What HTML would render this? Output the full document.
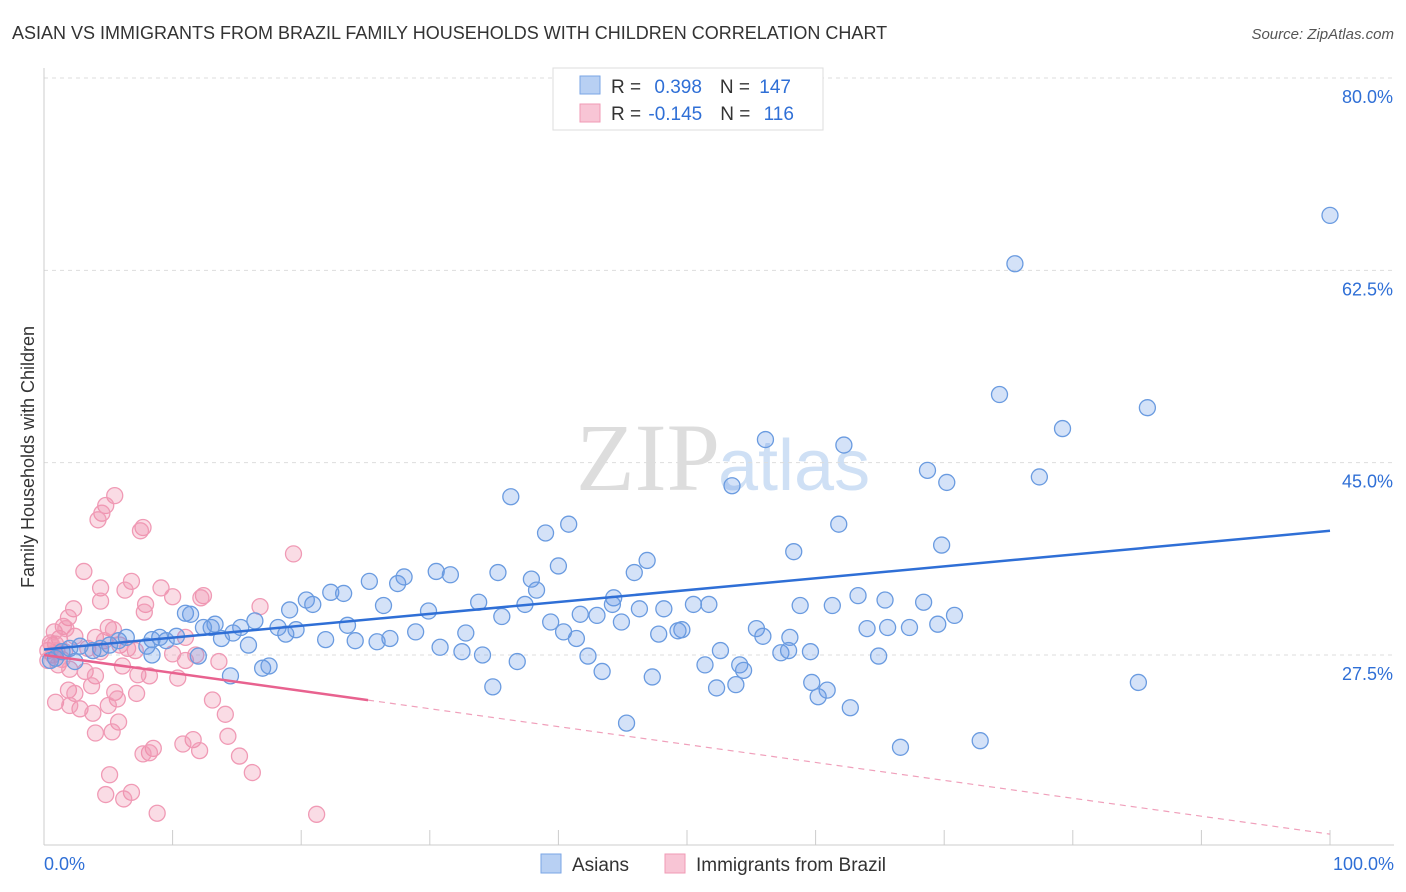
<!DOCTYPE html>
<html><head><meta charset="utf-8"><style>
body{margin:0;background:#fff;font-family:"Liberation Sans",sans-serif}
svg{display:block}
</style></head><body>
<svg id="chart" width="1406" height="892" font-family="Liberation Sans, sans-serif">
<text x="12" y="39" font-size="18" fill="#333">ASIAN VS IMMIGRANTS FROM BRAZIL FAMILY HOUSEHOLDS WITH CHILDREN CORRELATION CHART</text>
<text x="1394" y="39" font-size="15" fill="#555" text-anchor="end" font-style="italic">Source: ZipAtlas.com</text>
<text x="720" y="490" font-size="96" fill="#ddd" text-anchor="end" font-family="Liberation Serif, serif">ZIP</text>
<text x="718" y="490" font-size="72" fill="#cfe0f5">atlas</text>
<g id="grid"></g>
<g id="axes"></g>
<g id="pink"></g>
<g id="blue"></g>
<g id="lines"></g>
<text transform="translate(34,457) rotate(-90)" font-size="18" fill="#333" text-anchor="middle">Family Households with Children</text>
<g>
<rect x="553" y="68" width="270" height="62" fill="#fff" stroke="#ddd"/>
<rect x="580" y="76" width="20" height="18" fill="#b8d0f3" stroke="#7aa6e6"/>
<rect x="580" y="104" width="20" height="18" fill="#f8c5d5" stroke="#f09ab5"/>
<text x="611" y="93" font-size="19" fill="#333">R = <tspan fill="#2f6fd6" dx="8">0.398</tspan><tspan dx="18">N = </tspan><tspan fill="#2f6fd6" dx="4">147</tspan></text>
<text x="611" y="120" font-size="19" fill="#333">R = <tspan fill="#2f6fd6" dx="2">-0.145</tspan><tspan dx="18">N = </tspan><tspan fill="#2f6fd6" dx="8">116</tspan></text>
</g>
<g>
<rect x="541" y="854" width="20" height="19" fill="#b8d0f3" stroke="#7aa6e6"/>
<text x="572" y="871" font-size="19" fill="#333">Asians</text>
<rect x="665" y="854" width="20" height="19" fill="#f8c5d5" stroke="#f09ab5"/>
<text x="696" y="871" font-size="19" fill="#333">Immigrants from Brazil</text>
</g>
</svg>
<script>
const blueX=[100,75.5,74.3,85.8,79.2,56.1,62.2,68.7,70.2,77.4,53.5,36.3,39.0,40.8,61.8,69.8,58.3,46.9,40.0,45.9,35.3,30.5,31.6,28.0,27.5,25.3,22.3,23.3,37.9,38.3,20.4,20.9,19.1,26.4,29.9,33.8,37.4,44.3,44.2,41.7,43.0,46.3,48.2,50.5,51.7,58.8,61.3,63.3,65.4,68.4,70.8,69.5,67.3,65.6,64.0,55.4,55.9,58.0,49.6,47.8,49.3,44.9,39.4,40.4,41.4,35.6,32.8,28.9,26.9,25.9,24.2,23.6,21.9,19.6,18.8,18.2,16.4,15.3,14.7,13.8,13.0,13.3,12.4,11.0,11.4,10.3,9.5,9.0,8.4,8.0,8.4,6.4,5.8,5.1,4.4,3.8,2.8,2.0,1.4,0.9,0.5,2.4,15.9,12.0,30.8,32.5,34.1,36.8,42.3,43.4,47.3,51.4,52.6,54.1,54.4,57.3,57.9,59.6,64.9,59.7,60.9,60.2,62.7,52.3,53.8,45.3,34.9,66.6,72.8,85.1,14.5,17.0,17.5];
const blueY=[67.5,63.1,51.2,50.0,48.1,47.1,46.6,44.3,43.2,43.7,42.9,41.9,38.6,39.4,39.4,37.5,36.9,36.1,35.6,35.0,35.0,35.1,34.8,34.6,34.0,34.2,33.2,33.1,34.4,33.4,32.5,32.1,31.6,32.0,31.5,32.3,32.1,32.7,32.1,31.2,31.1,31.7,31.7,32.1,32.1,32.0,32.0,32.9,32.5,32.3,31.1,30.3,30.0,30.0,29.9,29.9,29.2,29.1,29.8,29.4,29.7,30.5,30.5,29.6,29.0,31.0,29.5,29.6,29.0,28.7,28.8,30.2,28.9,29.8,29.4,30.0,30.6,30.0,29.5,29.0,30.0,30.3,30.0,31.3,31.2,29.2,28.8,29.1,28.9,28.3,27.5,29.1,28.8,28.4,28.1,27.9,28.3,28.1,27.8,27.2,27.0,26.9,28.4,27.4,28.2,27.8,27.5,26.9,27.4,26.0,25.5,26.6,27.9,26.6,26.1,27.7,27.9,27.8,27.4,25.0,24.3,23.7,22.7,24.5,24.8,21.3,24.6,19.1,19.7,25.0,25.6,26.3,26.5];
const pinkX=[5.5,4.8,4.5,4.2,7.7,7.5,19.4,3.1,6.8,4.4,6.3,9.1,10.0,12.4,12.2,16.8,2.3,1.9,1.5,4.4,7.9,7.8,5.0,5.4,2.4,4.0,4.7,1.2,0.5,0.9,0.3,0.7,1.4,1.1,2.0,3.2,4.0,6.1,7.3,8.2,10.0,11.0,11.0,11.8,13.6,10.4,1.9,2.4,3.7,2.8,0.9,2.0,3.8,5.5,5.7,5.0,7.2,13.1,14.1,4.0,5.8,5.3,11.6,14.3,10.8,15.2,8.5,8.2,12.1,7.7,5.1,16.2,4.8,6.8,6.2,8.8,21.2,0.6,1.0,1.6,3.4,4.4,5.9,6.5,7.1,0.3,0.8,1.7];
const pinkY=[42.0,41.1,40.4,39.8,39.1,38.8,36.7,35.1,34.2,33.6,33.4,33.6,32.8,32.9,32.7,31.9,31.7,30.9,30.1,32.4,32.1,31.4,30.0,29.8,29.2,29.1,28.8,29.0,28.6,28.5,27.9,27.5,27.1,26.6,26.2,26.0,25.6,26.5,25.7,25.6,27.6,27.0,29.1,27.5,26.9,25.4,24.3,24.0,24.7,22.6,23.2,22.9,22.2,24.1,23.5,22.9,24.0,23.4,22.1,20.4,21.4,20.5,19.8,20.1,19.4,18.3,19.0,18.6,18.8,18.5,16.6,16.8,14.8,15.0,14.4,13.1,13.0,28.4,27.9,27.8,28.1,27.8,28.4,28.1,27.9,27.0,29.6,29.9];
const yTicks=[80,62.5,45,27.5];
const yTickLabels=["80.0%","62.5%","45.0%","27.5%"];
const xTickLabels=["0.0%","100.0%"];
const blueTrend=[28.0,38.8];
const pinkTrend=[27.5,11.2];
const pinkSolidEnd=25.2;
const NS="http://www.w3.org/2000/svg";
const X=v=>44+v*12.86, Y=v=>78+(80-v)*10.99;
function mk(p,tag,a){const e=document.createElementNS(NS,tag);for(const k in a)e.setAttribute(k,a[k]);p.appendChild(e);return e;}
const grid=document.getElementById('grid'),axes=document.getElementById('axes');
yTicks.forEach((t,i)=>{
 const l=mk(grid,'line',{x1:44,x2:1394,y1:Y(t),y2:Y(t),stroke:'#ddd','stroke-dasharray':'4,4'});
 
 
 const tx=mk(axes,'text',{x:1393,y:Y(t)+25,'font-size':18,fill:'#2f6fd6','text-anchor':'end'});
 tx.textContent=yTickLabels[i];
 
 
});
mk(axes,'line',{x1:44,x2:44,y1:68,y2:845,stroke:'#ccc'});
mk(axes,'line',{x1:44,x2:1394,y1:845,y2:845,stroke:'#ccc'});
for(let i=0;i<=10;i++){const t=mk(axes,'line',{x1:X(i*10),x2:X(i*10),y1:830,y2:845,stroke:'#ccc'});
 
 }
[[0,44,'start'],[1,1394,'end']].forEach(([i,x,a])=>{const t=mk(axes,'text',{x:x,y:870,'font-size':18,fill:'#2f6fd6','text-anchor':a});t.textContent=xTickLabels[i];
 
 });
const pg=document.getElementById('pink');
pinkX.forEach((x,i)=>{const c=mk(pg,'circle',{cx:X(x),cy:Y(pinkY[i]),r:8,fill:'rgba(240,140,170,0.3)',stroke:'#f09ab5','stroke-width':1.3});
 
 });
const bg=document.getElementById('blue');
blueX.forEach((x,i)=>{const c=mk(bg,'circle',{cx:X(x),cy:Y(blueY[i]),r:8,fill:'rgba(100,150,230,0.28)',stroke:'#6a9be0','stroke-width':1.3});
 
 });
const lg=document.getElementById('lines');
const bl=mk(lg,'line',{x1:X(0),y1:Y(blueTrend[0]),x2:X(100),y2:Y(blueTrend[1]),stroke:'#2f6fd6','stroke-width':2.5});


const pv=v=>pinkTrend[0]+(pinkTrend[1]-pinkTrend[0])*v/100;
const pl=mk(lg,'line',{x1:X(0),y1:Y(pv(0)),x2:X(pinkSolidEnd),y2:Y(pv(pinkSolidEnd)),stroke:'#e8628f','stroke-width':2.5});


const pd=mk(lg,'line',{x1:X(pinkSolidEnd),y1:Y(pv(pinkSolidEnd)),x2:X(100),y2:Y(pv(100)),stroke:'#f0a0bb','stroke-width':1.2,'stroke-dasharray':'6,5'});


</script>
</body></html>
